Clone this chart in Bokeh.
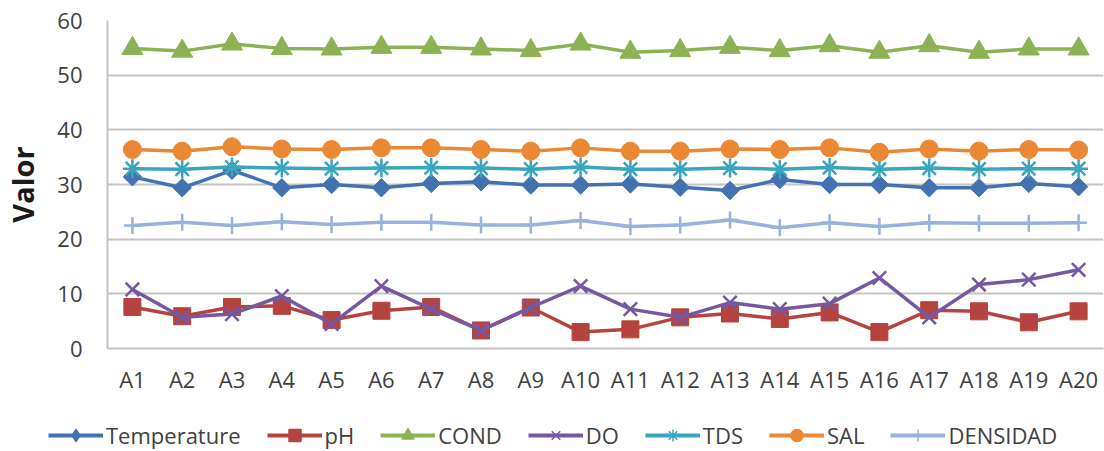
from bokeh.plotting import figure
from bokeh.models import Range1d, FixedTicker, Legend, LegendItem, FactorRange, ColumnDataSource
from bokeh.layouts import column
from bokeh.embed import file_html
from bokeh.resources import INLINE

categories = ["A1", "A2", "A3", "A4", "A5", "A6", "A7", "A8", "A9", "A10",
              "A11", "A12", "A13", "A14", "A15", "A16", "A17", "A18", "A19", "A20"]
temperature = [31.4, 29.4, 32.6, 29.4, 30.0, 29.4, 30.2, 30.5, 29.9, 29.9,
               30.1, 29.5, 28.9, 30.9, 30.0, 30.0, 29.4, 29.4, 30.2, 29.6]
ph = [7.6, 5.9, 7.6, 7.8, 5.2, 6.9, 7.6, 3.3, 7.5, 3.0,
      3.5, 5.7, 6.4, 5.4, 6.6, 3.0, 7.0, 6.8, 4.8, 6.8]
cond = [54.9, 54.4, 55.7, 54.9, 54.8, 55.1, 55.1, 54.8, 54.5, 55.7,
        54.2, 54.5, 55.1, 54.5, 55.4, 54.2, 55.4, 54.2, 54.8, 54.8]
do_vals = [10.8, 5.7, 6.3, 9.6, 4.5, 11.4, 7.2, 3.3, 7.5, 11.4,
           7.2, 5.7, 8.4, 7.2, 8.2, 12.9, 5.7, 11.7, 12.6, 14.4]
tds = [32.9, 32.8, 33.2, 33.0, 32.9, 33.0, 33.1, 33.0, 32.8, 33.2,
       32.8, 32.8, 33.0, 32.8, 33.1, 32.8, 33.0, 32.8, 32.9, 32.9]
sal = [36.4, 36.1, 36.9, 36.5, 36.4, 36.7, 36.7, 36.4, 36.1, 36.7,
       36.1, 36.1, 36.5, 36.4, 36.7, 35.9, 36.5, 36.1, 36.4, 36.3]
densidad = [22.5, 23.1, 22.5, 23.2, 22.7, 23.1, 23.1, 22.6, 22.6, 23.4,
            22.3, 22.6, 23.5, 22.1, 23.0, 22.3, 23.0, 22.9, 22.9, 23.0]
series_names = ["Temperature", "pH", "COND", "DO", "TDS", "SAL", "DENSIDAD"]
y_ticks = [0, 10, 20, 30, 40, 50, 60]

src = ColumnDataSource(dict(cat=categories, temperature=temperature, ph=ph, cond=cond,
                            do=do_vals, tds=tds, sal=sal, densidad=densidad))

p = figure(x_range=FactorRange(factors=categories), y_range=Range1d(0, 60),
           width=1104, height=400, output_backend="svg", toolbar_location=None,
           min_border_left=103, min_border_right=1, min_border_top=20, min_border_bottom=52)
p.outline_line_color = None
p.background_fill_color = "white"
p.border_fill_color = "white"

p.xgrid.grid_line_color = None
p.ygrid.grid_line_color = "#C4C4C4"
p.ygrid.grid_line_width = 2
p.yaxis.ticker = FixedTicker(ticks=y_ticks)

for ax in (p.xaxis[0], p.yaxis[0]):
    ax.axis_line_color = "#C4C4C4"
    ax.axis_line_width = 2
    ax.major_tick_out = 0
    ax.major_tick_in = 0
    ax.minor_tick_out = 0
    ax.minor_tick_in = 0
    ax.major_label_text_font = "Open Sans"
    ax.major_label_text_font_size = "22px"
    ax.major_label_text_color = "#404040"

p.yaxis.major_label_standoff = 25
p.xaxis.major_label_standoff = 15
p.yaxis.axis_label = "Valor"
p.yaxis.axis_label_text_font = "Open Sans"
p.yaxis.axis_label_text_font_style = "bold"
p.yaxis.axis_label_text_font_size = "29px"
p.yaxis.axis_label_text_color = "#1a1a1a"
p.yaxis.axis_label_standoff = 12

specs = [
    ("temperature", "#4472B0", "square", 13, 0.785398, 1, "diamond"),
    ("ph", "#B5433F", "square", 17, 0.0, 1, "square"),
    ("cond", "#8DB255", "triangle", 21, 0.0, 1, "triangle"),
    ("do", "#7558A0", "x", 19, 0.0, 2.5, "x"),
    ("tds", "#3AA5BE", "asterisk", 19, 0.0, 2.5, "asterisk"),
    ("sal", "#EB8834", "circle", 18, 0.0, 1, "circle"),
    ("densidad", "#98B2DC", "cross", 17, 0.0, 2.5, "cross"),
]

# legend strip below the chart
pl = figure(width=1104, height=51, output_backend="svg", toolbar_location=None,
            x_range=Range1d(0, 1), y_range=Range1d(0, 1),
            x_axis_location=None, y_axis_location=None, min_border=0)
pl.outline_line_color = None
pl.xgrid.grid_line_color = None
pl.ygrid.grid_line_color = None
try:
    p.frame_align = False
    pl.frame_align = False
except Exception:
    pass

items = []
for name, (col, color, marker, size, ang, mlw, lmarker) in zip(series_names, specs):
    p.line(x="cat", y=col, source=src, line_color=color, line_width=3.5)
    p.scatter(x="cat", y=col, source=src, marker=marker, size=size, angle=ang,
              fill_color=color, line_color=color, line_width=mlw)
    # off-range placeholder renderers, used only to draw the legend glyphs
    dl = pl.line(x=[5, 6], y=[5, 6], line_color=color, line_width=4)
    ds = pl.scatter(x=[5], y=[5], marker=lmarker, size=size,
                    fill_color=color, line_color=color, line_width=1.5)
    items.append(LegendItem(label=name, renderers=[dl, ds]))

legend = Legend(items=items, orientation="horizontal", location=(48, 1),
                glyph_width=55, glyph_height=30, label_standoff=3, spacing=26,
                padding=0, margin=0, border_line_alpha=0, background_fill_alpha=0,
                label_text_font="Open Sans", label_text_font_size="22px",
                label_text_color="#404040")
pl.add_layout(legend, "center")

layout = column(p, pl, spacing=0)
open("out.html", "w").write(file_html(layout, INLINE))
